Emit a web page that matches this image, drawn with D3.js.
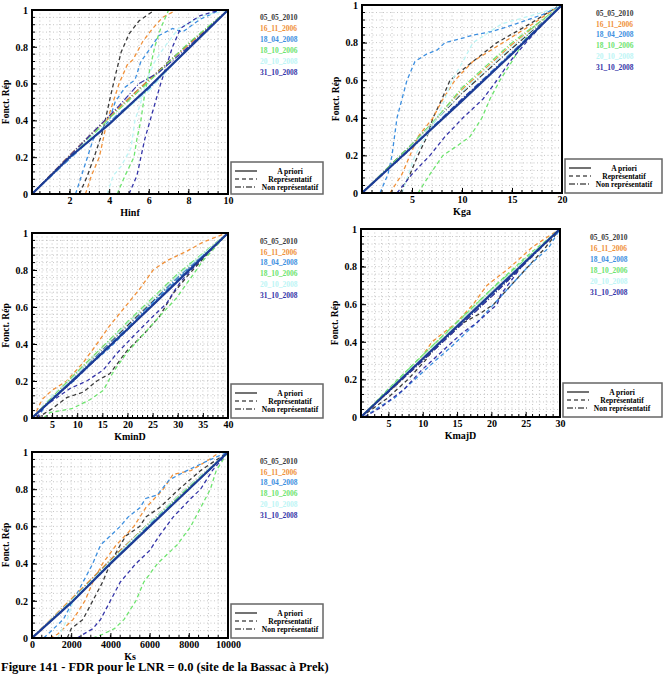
<!DOCTYPE html>
<html><head><meta charset="utf-8">
<script src="https://cdn.jsdelivr.net/npm/d3@7"></script>
<style>
body{margin:0;background:#fff}
svg{display:block}
text{font-family:"Liberation Serif","Times New Roman",serif;font-weight:bold}
</style>
</head><body>
<svg id="c" width="663" height="675"></svg>
<script>
// ---------- DATA ----------
const dates = ["05_05_2010","16_11_2006","18_04_2008","18_10_2006","20_10_2008","31_10_2008"];
const dateColors = ["#3a3a3a","#f0913a","#3c8fe0","#6ee46e","#bdf5f5","#3434a8"];
const lineTypes = ["A priori","Représentatif","Non représentatif"];
const yTicks = [0,0.2,0.4,0.6,0.8,1];
const yTitle = "Fonct. Rép";
const caption = "Figure 141 - FDR pour le LNR = 0.0 (site de la Bassac à Prek)";

// Hinf
const hinfTicks = [2,4,6,8,10];
const hinfApriori = [[0.1,0],[2,0.2],[4,0.38],[6,0.58],[8,0.79],[10,1]];
const hinfRep = [
 [[2.5,0],[2.9,0.1],[3.3,0.22],[3.7,0.35],[4.0,0.5],[4.3,0.64],[4.6,0.77],[5.0,0.87],[5.5,0.94],[6.3,1]],
 [[2.8,0],[3.1,0.1],[3.5,0.2],[3.9,0.4],[4.2,0.5],[4.5,0.6],[4.9,0.7],[5.2,0.73],[5.7,0.83],[6.2,0.9],[6.7,0.96],[7.4,1]],
 [[2.3,0],[2.6,0.1],[2.9,0.2],[3.2,0.3],[4.0,0.4],[4.3,0.5],[4.8,0.58],[5.3,0.62],[5.6,0.72],[6.0,0.78],[6.5,0.86],[7.2,0.9],[7.7,0.88],[8.6,0.95],[9.6,1]],
 [[4.4,0],[4.8,0.1],[5.25,0.2],[5.4,0.3],[5.6,0.4],[5.8,0.55],[6.0,0.65],[6.3,0.8],[6.6,0.9],[7.0,1]],
 [[3.9,0],[4.2,0.1],[4.6,0.15],[5.1,0.25],[5.3,0.4],[5.6,0.5],[5.9,0.62],[6.3,0.72],[6.8,0.8],[7.5,0.9],[8.8,0.97],[10,1]],
 [[5.0,0],[5.4,0.1],[5.6,0.2],[5.8,0.3],[6.2,0.45],[6.6,0.6],[6.9,0.7],[7.2,0.8],[7.6,0.9],[8.6,0.97],[9.6,1]]
];
const hinfNonRep = [
 [[0.1,0],[2,0.21],[3.5,0.37],[5,0.52],[7,0.72],[10,1]],
 [[0.1,0],[2,0.21],[4,0.42],[6,0.62],[8,0.81],[10,1]],
 [[0.1,0],[3,0.29],[4.5,0.44],[6,0.57],[8,0.79],[10,1]],
 [[0.1,0],[2,0.2],[4,0.41],[6,0.61],[8,0.82],[10,1]],
 [[0.1,0],[3,0.3],[4.5,0.43],[6,0.56],[7,0.68],[10,1]],
 [[0.1,0],[3.5,0.37],[4.5,0.48],[5.5,0.6],[6.5,0.66],[8,0.8],[10,1]]
];

// Kga
const kgaTicks = [5,10,15,20];
const kgaApriori = [[0,0],[5,0.245],[10,0.49],[15,0.74],[20,1]];
const kgaRep = [
 [[3.8,0],[4.8,0.1],[5.6,0.2],[6.5,0.3],[7.1,0.4],[8.0,0.5],[8.8,0.6],[11.1,0.7],[13.5,0.8],[16.8,0.9],[19.8,1]],
 [[2.8,0],[4.0,0.1],[4.8,0.2],[5.6,0.3],[7.1,0.4],[8.1,0.5],[9.3,0.6],[11.1,0.7],[14.1,0.8],[17.1,0.9],[19.8,1]],
 [[1.8,0],[2.6,0.1],[3.0,0.2],[3.5,0.4],[4.5,0.6],[5.3,0.7],[6.5,0.74],[7.5,0.76],[8.3,0.8],[9.8,0.82],[11.1,0.84],[13.1,0.86],[15.4,0.9],[18.1,0.95],[20,1]],
 [[5.6,0],[6.8,0.1],[8.1,0.2],[9.5,0.25],[10.8,0.3],[12.0,0.4],[12.8,0.5],[13.8,0.6],[15.0,0.7],[16.1,0.8],[17.1,0.88],[20,1]],
 [[4.0,0],[5.3,0.2],[6.4,0.3],[7.5,0.4],[8.3,0.5],[9.0,0.6],[10.1,0.7],[11.1,0.8],[14,0.9],[18,0.96],[20,1]],
 [[3.5,0],[5.0,0.1],[6.8,0.2],[8.3,0.3],[10.1,0.4],[12.1,0.5],[13.5,0.6],[14.8,0.7],[16.4,0.8],[18.1,0.9],[20,1]]
];
const kgaNonRep = [
 [[0,0],[5,0.26],[10,0.53],[15,0.77],[20,1]],
 [[0,0],[5,0.25],[10,0.55],[15,0.79],[20,1]],
 [[0,0],[5,0.25],[10,0.5],[15,0.75],[20,1]],
 [[0,0],[5,0.26],[7.5,0.4],[10,0.56],[15,0.8],[20,1]],
 [[0,0],[5,0.25],[10,0.54],[15,0.78],[20,1]],
 [[0,0],[5,0.24],[10,0.5],[15,0.74],[20,1]]
];

// KminD
const kminTicks = [5,10,15,20,25,30,35,40];
const kminApriori = [[1,0],[10,0.225],[20,0.48],[30,0.74],[40,1]];
const kminRep = [
 [[2,0],[5,0.05],[7.9,0.11],[11.2,0.14],[13.9,0.2],[16.5,0.24],[19.8,0.36],[23.8,0.47],[26.4,0.55],[29,0.67],[32,0.77],[36,0.89],[40,1]],
 [[1.3,0],[3.0,0.1],[5,0.15],[7.9,0.2],[11.2,0.3],[13.9,0.4],[16.5,0.5],[19.5,0.6],[22.5,0.7],[25.1,0.8],[27.8,0.85],[31.7,0.9],[35.0,0.95],[39.7,1]],
 [[2,0],[4.6,0.1],[9.3,0.2],[12.6,0.29],[16.5,0.38],[20.5,0.49],[25,0.62],[30,0.75],[35,0.88],[40,1]],
 [[3.3,0],[4.6,0.03],[8.9,0.05],[12.6,0.1],[15.2,0.15],[17.2,0.25],[19.8,0.35],[23.1,0.45],[26.4,0.55],[29.8,0.65],[32.4,0.75],[35,0.85],[37.7,0.93],[40,1]],
 [[1,0],[5,0.12],[10,0.25],[20,0.51],[30,0.77],[40,1]],
 [[2,0],[3.3,0.06],[8.6,0.16],[11.9,0.2],[15.2,0.26],[17.9,0.35],[21.8,0.46],[25.1,0.55],[27.8,0.62],[29.4,0.69],[30.7,0.74],[35,0.87],[40,1]]
];
const kminNonRep = [
 [[1,0],[10,0.24],[20,0.5],[30,0.76],[40,1]],
 [[1,0],[10,0.25],[20,0.51],[30,0.77],[40,1]],
 [[1,0],[10,0.23],[20,0.49],[30,0.76],[40,1]],
 [[1,0],[10,0.25],[20,0.52],[30,0.78],[40,1]],
 [[1,0],[10,0.24],[20,0.51],[30,0.77],[40,1]],
 [[1,0],[10,0.22],[20,0.48],[30,0.74],[40,1]]
];

// KmajD
const kmajTicks = [5,10,15,20,25,30];
const kmajApriori = [[1,0],[10,0.31],[20,0.655],[30,1]];
const kmajRep = [
 [[1,0],[4.85,0.1],[7.85,0.2],[10.35,0.3],[12.35,0.4],[15.85,0.5],[18.35,0.55],[20.35,0.6],[22.85,0.7],[25.35,0.8],[27.85,0.9],[30,1]],
 [[1,0],[4,0.1],[7,0.2],[9.5,0.3],[11.35,0.4],[14.85,0.5],[17.35,0.6],[19.35,0.7],[22.85,0.8],[25.85,0.9],[27.85,0.95],[30,1]],
 [[1.5,0],[3.5,0.05],[5.85,0.1],[8.85,0.2],[11.85,0.3],[14.35,0.38],[16.35,0.45],[17.85,0.5],[20.35,0.6],[22.85,0.7],[25.35,0.8],[28.35,0.9],[30,1]],
 [[1,0],[5,0.15],[10,0.33],[15,0.5],[20,0.68],[25,0.85],[30,1]],
 [[1,0],[5,0.14],[10,0.32],[15,0.49],[20,0.67],[25,0.84],[30,1]],
 [[1.5,0],[3.85,0.05],[7.35,0.15],[9.85,0.25],[12.85,0.35],[15.85,0.45],[17.85,0.5],[20.85,0.6],[21.35,0.65],[25,0.83],[30,1]]
];
const kmajNonRep = [
 [[1,0],[10,0.3],[20,0.64],[30,1]],
 [[1,0],[10,0.32],[20,0.67],[30,1]],
 [[1,0],[10,0.31],[20,0.65],[30,1]],
 [[1,0],[10,0.33],[20,0.68],[30,1]],
 [[1,0],[10,0.32],[20,0.67],[30,1]],
 [[1,0],[10,0.3],[20,0.64],[30,1]]
];

// Ks
const ksTicks = [0,2000,4000,6000,8000,10000];
const ksApriori = [[0,0],[2000,0.19],[4000,0.4],[6000,0.6],[8000,0.8],[10000,1]];
const ksRep = [
 [[1800,0],[2000,0.05],[2600,0.1],[3100,0.2],[3600,0.3],[4000,0.4],[4500,0.5],[4800,0.55],[5500,0.6],[5800,0.65],[6500,0.7],[7500,0.8],[8600,0.9],[10000,1]],
 [[900,0],[1300,0.02],[2100,0.1],[2700,0.2],[3100,0.3],[3600,0.4],[4300,0.5],[5200,0.6],[5800,0.7],[6700,0.8],[7200,0.88],[8100,0.9],[8900,0.95],[9600,1]],
 [[600,0],[1100,0.05],[1600,0.1],[2100,0.2],[2600,0.3],[3100,0.4],[3500,0.5],[4000,0.55],[4500,0.6],[4900,0.65],[5500,0.7],[5800,0.75],[6400,0.77],[7000,0.85],[7900,0.9],[8900,0.95],[10000,1]],
 [[3100,0],[3600,0.02],[4200,0.05],[4700,0.1],[5000,0.15],[5300,0.2],[5700,0.3],[6400,0.4],[6900,0.45],[7400,0.5],[8100,0.6],[8600,0.7],[9100,0.8],[9400,0.9],[10000,1]],
 [[1300,0],[1800,0.1],[2100,0.2],[3000,0.3],[4000,0.41],[6000,0.61],[8000,0.81],[10000,1]],
 [[2300,0],[3100,0.05],[3500,0.1],[4000,0.2],[4500,0.3],[5300,0.4],[6000,0.47],[6500,0.55],[7200,0.65],[8100,0.75],[8600,0.8],[9200,0.9],[10000,1]]
];
const ksNonRep = [
 [[0,0],[2000,0.2],[4000,0.42],[6000,0.62],[8000,0.81],[10000,1]],
 [[0,0],[2000,0.21],[4000,0.42],[6000,0.62],[8000,0.82],[10000,1]],
 [[0,0],[2000,0.2],[4000,0.41],[6000,0.61],[8000,0.8],[10000,1]],
 [[0,0],[2000,0.2],[4000,0.41],[6000,0.62],[8000,0.81],[10000,1]],
 [[0,0],[2000,0.2],[4000,0.41],[6000,0.62],[8000,0.82],[10000,1]],
 [[0,0],[2000,0.19],[4000,0.4],[6000,0.6],[8000,0.8],[10000,1]]
];

// ---------- LAYOUT ----------
const panels = [
 {title:"Hinf", domain:[0.1,10], ticks:hinfTicks, minor:0.5, apriori:hinfApriori, rep:hinfRep, nonrep:hinfNonRep,
  box:{x:32,y:10,w:196,h:184}, leg:{x:231,y:162,w:92,h:32}, dl:{x:260,y:17,step:11}},
 {title:"Kga", domain:[0,20], ticks:kgaTicks, minor:1, apriori:kgaApriori, rep:kgaRep, nonrep:kgaNonRep,
  box:{x:362,y:5,w:200,h:188}, leg:{x:565,y:159,w:97,h:34}, dl:{x:596,y:13,step:10.8}},
 {title:"KminD", domain:[1,40], ticks:kminTicks, minor:1, apriori:kminApriori, rep:kminRep, nonrep:kminNonRep,
  box:{x:32,y:233,w:196,h:185}, leg:{x:231,y:384,w:92,h:34}, dl:{x:260,y:241,step:10.8}},
 {title:"KmajD", domain:[1,30], ticks:kmajTicks, minor:1, apriori:kmajApriori, rep:kmajRep, nonrep:kmajNonRep,
  box:{x:361,y:229,w:199,h:188}, leg:{x:563,y:383,w:99,h:34}, dl:{x:590,y:237,step:11}},
 {title:"Ks", domain:[0,10000], ticks:ksTicks, minor:500, apriori:ksApriori, rep:ksRep, nonrep:ksNonRep,
  box:{x:32,y:452,w:196,h:186}, leg:{x:231,y:604,w:92,h:34}, dl:{x:260,y:461,step:10.8}}
];

const svg = d3.select("#c");
const dashRep = "4,3", dashNon = "6,2,1,2";

panels.forEach(P => {
  const b = P.box;
  const x = d3.scaleLinear().domain(P.domain).range([b.x, b.x + b.w]);
  const y = d3.scaleLinear().domain([0,1]).range([b.y + b.h, b.y]);
  const g = svg.append("g");
  const clipId = "clip" + P.title;
  svg.append("clipPath").attr("id", clipId).append("rect")
     .attr("x", b.x).attr("y", b.y).attr("width", b.w).attr("height", b.h);

  // grid
  const xMinor = d3.range(Math.ceil(P.domain[0]/P.minor)*P.minor, P.domain[1]+1e-9, P.minor);
  const yMinor = d3.range(0, 1.0001, 0.04);
  g.append("g").selectAll("line").data(xMinor).join("line")
    .attr("x1", d=>x(d)).attr("x2", d=>x(d)).attr("y1", b.y).attr("y2", b.y+b.h)
    .attr("stroke","#b8b8b8").attr("stroke-width",0.8).attr("stroke-dasharray","1,2.5");
  g.append("g").selectAll("line").data(yMinor).join("line")
    .attr("x1", b.x).attr("x2", b.x+b.w).attr("y1", d=>y(d)).attr("y2", d=>y(d))
    .attr("stroke","#b8b8b8").attr("stroke-width",0.8).attr("stroke-dasharray","1,2.5");

  const line = d3.line().x(d=>x(d[0])).y(d=>y(d[1]));
  const lg = g.append("g").attr("clip-path", `url(#${clipId})`);
  P.rep.forEach((s,i)=>{
    lg.append("path").attr("d", line(s)).attr("fill","none")
      .attr("stroke", dateColors[i]).attr("stroke-width",1.3).attr("stroke-dasharray", dashRep);
  });
  P.nonrep.forEach((s,i)=>{
    lg.append("path").attr("d", line(s)).attr("fill","none")
      .attr("stroke", dateColors[i]).attr("stroke-width",1.2).attr("stroke-dasharray", dashNon);
  });
  lg.append("path").attr("d", line(P.apriori)).attr("fill","none")
    .attr("stroke","#1c3c94").attr("stroke-width",2.2);

  // axes
  const xAxis = d3.axisBottom(x).tickValues(P.ticks).tickSize(-5).tickPadding(3)
      .tickFormat(d=>d3.format("d")(d));
  const gx = g.append("g").attr("transform",`translate(0,${b.y+b.h})`).call(xAxis)
      .attr("font-family", null);
  gx.select(".domain").remove();
  gx.selectAll("text").attr("font-size",10).attr("fill","#000");
  gx.selectAll("line").attr("stroke","#000");
  g.append("g").selectAll("line").data(xMinor).join("line")
    .attr("x1", d=>x(d)).attr("x2", d=>x(d)).attr("y1", b.y+b.h).attr("y2", b.y+b.h-3)
    .attr("stroke","#000").attr("stroke-width",1);

  const yAxis = d3.axisLeft(y).tickValues(yTicks).tickSize(-5).tickPadding(4)
      .tickFormat(d=> d===0||d===1 ? String(d) : d3.format(".1f")(d));
  const gy = g.append("g").attr("transform",`translate(${b.x},0)`).call(yAxis)
      .attr("font-family", null);
  gy.select(".domain").remove();
  gy.selectAll("text").attr("font-size",10).attr("fill","#000");
  gy.selectAll("line").attr("stroke","#000");
  g.append("g").selectAll("line").data(yMinor).join("line")
    .attr("x1", b.x).attr("x2", b.x+3).attr("y1", d=>y(d)).attr("y2", d=>y(d))
    .attr("stroke","#000").attr("stroke-width",1);

  // frame
  g.append("rect").attr("x",b.x).attr("y",b.y).attr("width",b.w).attr("height",b.h)
    .attr("fill","none").attr("stroke","#000").attr("stroke-width",2);

  // titles
  g.append("text").attr("x", b.x + b.w/2).attr("y", b.y + b.h + 21.5)
    .attr("text-anchor","middle").attr("font-size",10).text(P.title);
  g.append("text").attr("transform",`translate(${b.x-23},${b.y+b.h/2}) rotate(-90)`)
    .attr("text-anchor","middle").attr("font-size",9.5).text(yTitle);

  // date legend
  dates.forEach((d,i)=>{
    g.append("text").attr("x", P.dl.x).attr("y", P.dl.y + i*P.dl.step + 2.8)
      .attr("font-size",7.5).attr("fill", dateColors[i]).text(d);
  });

  // line type legend
  const L = P.leg;
  g.append("rect").attr("x",L.x).attr("y",L.y).attr("width",L.w).attr("height",L.h)
    .attr("fill","#fff").attr("stroke","#666").attr("stroke-width",1.5);
  const dashes = [null, dashRep, dashNon];
  lineTypes.forEach((t,i)=>{
    const yy = L.y + 9 + i*8;
    g.append("line").attr("x1", L.x+4).attr("x2", L.x+26).attr("y1", yy).attr("y2", yy)
      .attr("stroke","#000").attr("stroke-width",1.1).attr("stroke-dasharray", dashes[i]);
    g.append("text").attr("x", L.x + 59).attr("y", yy + 2.6).attr("text-anchor","middle")
      .attr("font-size",7.5).text(t);
  });
});

svg.append("text").attr("x",1).attr("y",671).attr("font-size",12.5).text(caption);
</script>
</body></html>
